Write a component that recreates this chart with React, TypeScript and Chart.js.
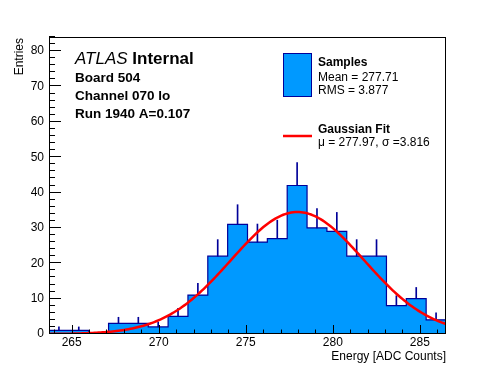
import React, { useEffect, useRef } from "react";
import { Chart, registerables } from "chart.js";

Chart.register(...registerables);

// ---- data ----
const binLow = 263.7;
const binWidth = 1.14;
const binCounts = [1, 1, 0, 3, 3, 2, 5, 11, 22, 31, 26, 27, 42, 30, 29, 22, 22, 8, 10, 4];
const xMin = 263.7;
const xMax = 286.5;
const yMin = 0;
const yMax = 84;
const xTickValues = [265, 270, 275, 280, 285];
const yTickValues = [0, 10, 20, 30, 40, 50, 60, 70, 80];
const fitAmplitude = 34.5;
const fitMean = 277.97;
const fitSigma = 3.816;
const headerLines = ["Board 504", "Channel 070 lo", "Run 1940 A=0.107"];
const legendSamples = ["Samples", "Mean = 277.71", "RMS = 3.877"];
const legendFit = ["Gaussian Fit", "\u03bc = 277.97, \u03c3 =3.816"];
const xTitle = "Energy [ADC Counts]";
const yTitle = "Entries";

const FONT = "'Liberation Sans', Arial, Helvetica, sans-serif";
const FILL = "#0099ff";
const LINE = "#000099";

export default function App() {
  const ref = useRef<HTMLCanvasElement | null>(null);

  useEffect(() => {
    const canvas = ref.current;
    if (!canvas) return;

    const edges = binCounts.map((_, i) => binLow + i * binWidth);
    const histData = binCounts.map((c, i) => ({ x: edges[i], y: c }));
    histData.push({ x: binLow + binCounts.length * binWidth, y: binCounts[binCounts.length - 1] });

    const errData = binCounts.map((c, i) => ({
      x: binLow + (i + 0.5) * binWidth,
      y: [c, c + Math.sqrt(c)],
    }));

    const nFit = 200;
    const fitData: { x: number; y: number }[] = [];
    for (let k = 0; k <= nFit; k++) {
      const x = xMin + ((xMax - xMin) * k) / nFit;
      const y = fitAmplitude * Math.exp(-((x - fitMean) ** 2) / (2 * fitSigma * fitSigma));
      fitData.push({ x, y });
    }

    const decor = {
      id: "decor",
      afterDraw(chart: any) {
        const ctx = chart.ctx as CanvasRenderingContext2D;
        const xs = chart.scales.x;
        const ys = chart.scales.y;
        const a = chart.chartArea;
        const L = Math.round(a.left);
        const B = Math.round(a.bottom);
        const T = Math.round(a.top);
        const R = Math.round(a.right);
        ctx.save();
        ctx.strokeStyle = "#000";
        ctx.lineWidth = 1;
        // ticks inside frame
        ctx.beginPath();
        for (let v = Math.ceil(xMin); v <= Math.floor(xMax); v++) {
          const px = Math.round(xs.getPixelForValue(v)) + 0.5;
          const len = v % 5 === 0 ? 9 : 4.5;
          ctx.moveTo(px, B);
          ctx.lineTo(px, B - len);
        }
        for (let v = yMin; v <= yMax; v += 2) {
          const py = Math.round(ys.getPixelForValue(v)) - 0.5;
          const len = v % 10 === 0 ? 12 : 6;
          ctx.moveTo(L, py);
          ctx.lineTo(L + len, py);
        }
        ctx.stroke();
        // frame
        ctx.strokeRect(L + 0.5, T + 0.5, R - L - 1, B - T - 1);

        ctx.fillStyle = "#000";
        // axis titles
        ctx.font = `12px ${FONT}`;
        ctx.textAlign = "right";
        ctx.textBaseline = "alphabetic";
        ctx.fillText(xTitle, R, 360);
        ctx.save();
        ctx.translate(22.5, T + 1);
        ctx.rotate(-Math.PI / 2);
        ctx.fillText(yTitle, 0, 0);
        ctx.restore();

        // header text
        ctx.textAlign = "left";
        ctx.font = `italic 17px ${FONT}`;
        ctx.fillText("ATLAS", 75, 63.5);
        const w = ctx.measureText("ATLAS ").width;
        ctx.font = `bold 17px ${FONT}`;
        ctx.fillText("Internal", 75 + w, 63.5);
        ctx.font = `bold 13.5px ${FONT}`;
        headerLines.forEach((t, i) => ctx.fillText(t, 75, 81.7 + i * 18));

        // legend
        ctx.fillStyle = FILL;
        ctx.fillRect(283.5, 53.5, 28, 43);
        ctx.strokeStyle = LINE;
        ctx.strokeRect(283.5, 53.5, 28, 43);
        ctx.strokeStyle = "#ff0000";
        ctx.lineWidth = 2.5;
        ctx.beginPath();
        ctx.moveTo(283, 136);
        ctx.lineTo(312, 136);
        ctx.stroke();

        ctx.fillStyle = "#000";
        ctx.font = `bold 12px ${FONT}`;
        ctx.fillText(legendSamples[0], 318, 66);
        ctx.font = `12px ${FONT}`;
        ctx.fillText(legendSamples[1], 318, 80.7);
        ctx.fillText(legendSamples[2], 318, 93.5);
        ctx.font = `bold 12px ${FONT}`;
        ctx.fillText(legendFit[0], 318, 132.7);
        ctx.font = `12px ${FONT}`;
        ctx.fillText(legendFit[1], 318, 145.5);
        ctx.restore();
      },
    };

    const chart = new Chart(canvas, {
      type: "line",
      data: {
        datasets: [
          {
            type: "line",
            label: "Gaussian Fit",
            data: fitData,
            borderColor: "#ff0000",
            borderWidth: 2.5,
            pointRadius: 0,
            fill: false,
            tension: 0,
          },
          {
            type: "bar",
            label: "errors",
            data: errData as any,
            backgroundColor: LINE,
            borderWidth: 0,
            barThickness: 1,
            grouped: false,
          } as any,
          {
            type: "line",
            label: "Samples",
            data: histData,
            stepped: "before",
            borderColor: LINE,
            borderWidth: 1.2,
            backgroundColor: FILL,
            pointRadius: 0,
            fill: "origin",
          },
        ],
      },
      options: {
        animation: false,
        responsive: false,
        maintainAspectRatio: false,
        layout: { padding: { top: 37, right: 50, left: 0, bottom: 0 } },
        plugins: {
          legend: { display: false },
          tooltip: { enabled: false },
          title: { display: false },
        },
        scales: {
          x: {
            type: "linear",
            min: xMin,
            max: xMax,
            offset: false,
            grid: { display: false, drawTicks: false, offset: false },
            border: { display: false },
            afterBuildTicks: (s: any) => {
              s.ticks = xTickValues.map((v) => ({ value: v }));
            },
            afterFit: (s: any) => {
              s.height = 38;
            },
            ticks: {
              padding: 1,
              autoSkip: false,
              maxRotation: 0,
              color: "#000",
              font: { family: FONT, size: 12 },
              callback: (v: any) => String(v),
            },
          },
          y: {
            type: "linear",
            min: yMin,
            max: yMax,
            grid: { display: false, drawTicks: false },
            border: { display: false },
            afterBuildTicks: (s: any) => {
              s.ticks = yTickValues.map((v) => ({ value: v }));
            },
            afterFit: (s: any) => {
              s.width = 49;
            },
            ticks: {
              padding: 5,
              color: "#000",
              font: { family: FONT, size: 12 },
              callback: (v: any) => String(v),
            },
          },
        },
      } as any,
      plugins: [decor],
    });

    return () => chart.destroy();
  }, []);

  return (
    <div style={{ position: "fixed", left: 0, top: 0, width: 496, height: 372, background: "#fff" }}>
      <canvas ref={ref} width={496} height={372} style={{ display: "block" }} />
    </div>
  );
}
